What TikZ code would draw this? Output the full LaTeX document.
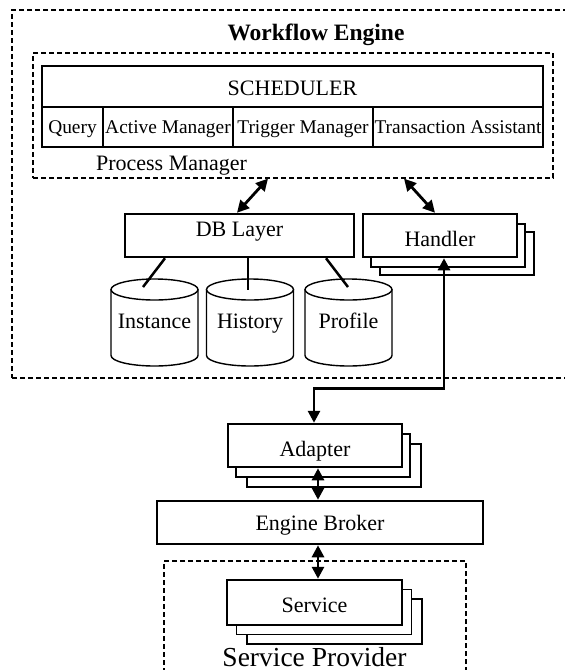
\documentclass[tikz,border=0pt]{standalone}
\usepackage{fontspec}
\setmainfont{Liberation Serif}
\usetikzlibrary{arrows.meta}
\begin{document}
\begin{tikzpicture}[x=1pt,y=-1pt,
  dashbox/.style={draw, dash pattern=on 5pt off 3pt, line width=1.2pt, inner sep=0pt},
  thickbox/.style={draw, line width=2.5pt, fill=white, inner sep=0pt, text depth=0pt, font=\fontsize{22}{26}\selectfont},
  shadowbox/.style={draw, line width=1.4pt, fill=white, inner sep=0pt},
  cell/.style={draw, line width=1.3pt, inner sep=0pt, text depth=0pt, font=\fontsize{19.4}{23}\selectfont},
  link/.style={line width=2.5pt},
  dbl/.style={line width=2.8pt, {Triangle[length=12pt,width=12pt]}-{Triangle[length=12pt,width=12pt]}},
  cylline/.style={line width=1.4pt},
  lbl/.style={font=\fontsize{22}{26}\selectfont, inner sep=0pt, anchor=base}]
\useasboundingbox (0,0) rectangle (565,670);
\clip (0,0) rectangle (565,670);
\fill[white] (0,0) rectangle (565,670);

% containers
\node[dashbox, minimum width=558pt, minimum height=368pt] (we) at (291,194) {};
\node[dashbox, minimum width=520pt, minimum height=125pt] (pm) at (293,115.5) {};
\node[dashbox, minimum width=302pt, minimum height=129pt] (sp) at (315,625.5) {};

\node[lbl, font=\bfseries\fontsize{23.5}{28}\selectfont] (wetitle) at (316,40) {Workflow Engine};
\node[lbl] (pmlabel) at (171.5,170) {Process Manager};
\node[lbl, font=\fontsize{27.5}{32}\selectfont] (splabel) at (314.5,666) {Service Provider};

% scheduler table
\node[cell, minimum width=501pt, minimum height=41pt, text height=17pt, font=\fontsize{22}{26}\selectfont] (sched) at (292.5,86.5) {SCHEDULER};
\node[cell, minimum width=61pt, minimum height=40pt, text height=12pt] (query) at (72.5,127) {Query};
\node[cell, minimum width=130pt, minimum height=40pt, text height=12pt] (active) at (168,127) {Active Manager};
\node[cell, minimum width=140pt, minimum height=40pt, text height=12pt] (trigger) at (303,127) {Trigger Manager};
\node[cell, minimum width=170pt, minimum height=40pt, text height=12pt] (trans) at (458,127) {Transaction Assistant};

% DB layer
\node[thickbox, minimum width=229pt, minimum height=43pt, text height=2.4pt] (db) at (239.5,235.5) {DB Layer};

% handler with stack
\node[shadowbox, minimum width=154pt, minimum height=43pt] (h3) at (457,253.5) {};
\node[shadowbox, minimum width=154pt, minimum height=43pt] (h2) at (448,245.5) {};
\node[thickbox, minimum width=154pt, minimum height=43pt, text height=21pt] (handler) at (440,235.5) {Handler};

% cylinders
\foreach \cx/\nm/\tx in {154.5/inst/Instance, 250/hist/History, 348.5/prof/Profile}{
  \draw[cylline, fill=white] (\cx-43.5,289.5) -- (\cx-43.5,355.5)
     arc[start angle=180, end angle=0, x radius=43.5, y radius=10.5] -- (\cx+43.5,289.5);
  \draw[cylline] (\cx,289.5) ellipse[x radius=43.5, y radius=10.5];
  \coordinate (\nm-top) at (\cx,289.5);
  \node[lbl] (\nm) at (\cx,328) {\tx};
}

% adapter with stack
\node[shadowbox, line width=2.4pt, minimum width=174pt, minimum height=43pt] (a3) at (334,465.5) {};
\node[shadowbox, line width=2.4pt, minimum width=174pt, minimum height=43pt] (a2) at (323,455.5) {};
\node[thickbox, minimum width=174pt, minimum height=43pt, text height=22.4pt] (adapter) at (315,445.5) {Adapter};

% engine broker
\node[thickbox, minimum width=326pt, minimum height=43pt, text height=16.4pt] (eb) at (320,522.5) {Engine Broker};

% service with stack
\node[shadowbox, minimum width=175pt, minimum height=45pt] (s3) at (334.5,621.5) {};
\node[shadowbox, minimum width=175pt, minimum height=45pt] (s2) at (324,612) {};
\node[thickbox, minimum width=175pt, minimum height=45pt, text height=20.4pt] (service) at (314.5,602.5) {Service};

% connectors
\draw[link] ([xshift=-74.5pt]db.south) -- ([xshift=-11.5pt,yshift=2.5pt]inst-top);
\draw[link] ([xshift=8.5pt]db.south) -- ([xshift=-2pt]hist-top);
\draw[link] ([xshift=86.5pt]db.south) -- ([xshift=-0.5pt,yshift=2.5pt]prof-top);

\draw[dbl] ([xshift=-25pt]pm.south) -- ([xshift=-2.5pt]db.north);
\draw[dbl] ([xshift=111pt]pm.south) -- ([xshift=-5pt]handler.north);
\draw[dbl] ([xshift=4pt]handler.south) -- ++(0,130) -| ([xshift=-1pt]adapter.north);
\draw[dbl] ([xshift=3pt]adapter.south) -- ([xshift=-2pt]eb.north);
\draw[dbl] ([xshift=-2pt]eb.south) -- ([xshift=3.5pt]service.north);
\end{tikzpicture}
\end{document}
